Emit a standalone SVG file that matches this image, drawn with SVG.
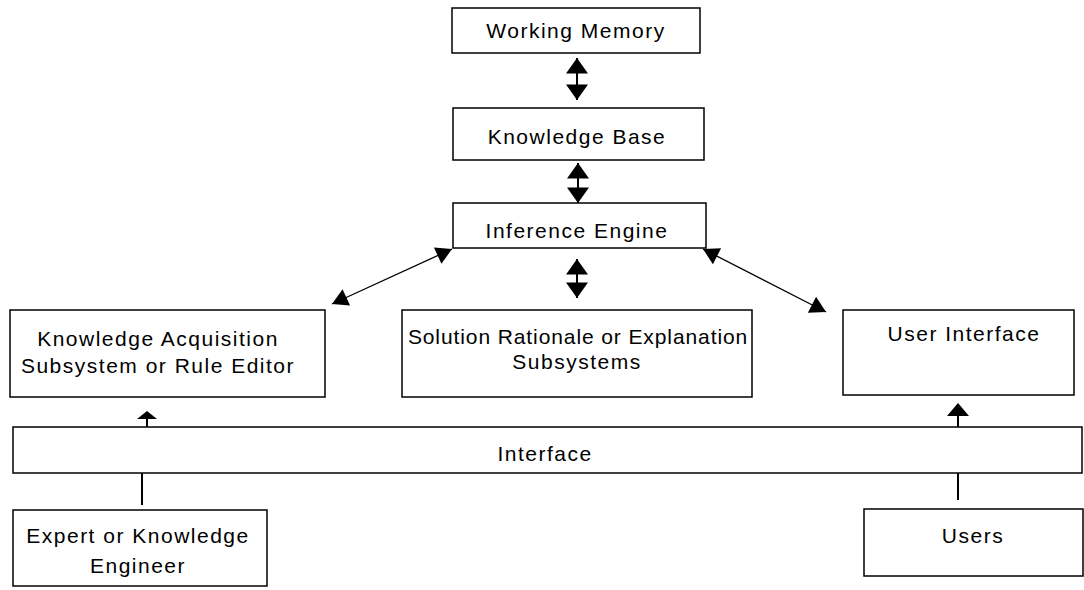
<svg xmlns="http://www.w3.org/2000/svg" width="1084" height="590" viewBox="0 0 1084 590">
<defs>
<style>
.box{fill:#fff;stroke:#000;stroke-width:1.5}
.t{font-family:"Liberation Sans",Arial,sans-serif;font-size:21px;letter-spacing:1.5px;text-anchor:middle;fill:#000}
.c{stroke:#000;stroke-width:2;fill:none}
.d{stroke:#000;stroke-width:1.3;fill:none}
.h{fill:#000}
</style>
<marker id="ah" markerUnits="userSpaceOnUse" markerWidth="22" markerHeight="22" viewBox="0 0 14 20" refX="14" refY="10" orient="auto-start-reverse">
<path d="M0,0 L14,10 L0,20 Z" fill="#000"/>
</marker>
<marker id="ad" markerUnits="userSpaceOnUse" markerWidth="18" markerHeight="18" viewBox="0 0 14 16" refX="14" refY="8" orient="auto-start-reverse">
<path d="M0,0 L14,8 L0,16 Z" fill="#000"/>
</marker>
</defs>
<rect width="1084" height="590" fill="#fff"/>
<g id="working-memory"><rect class="box" x="452" y="8" width="248" height="45"/><text class="t" x="576" y="38">Working Memory</text></g>
<g id="knowledge-base"><rect class="box" x="453" y="108" width="251" height="52"/><text class="t" x="577" y="144">Knowledge Base</text></g>
<g id="inference-engine"><rect class="box" x="453" y="203" width="253" height="45"/><text class="t" x="577" y="238">Inference Engine</text></g>
<g id="knowledge-acquisition"><rect class="box" x="10" y="310" width="315" height="87"/><text class="t" x="158" y="346">Knowledge Acquisition</text><text class="t" x="158" y="373">Subsystem or Rule Editor</text></g>
<g id="solution-rationale"><rect class="box" x="402" y="310" width="350" height="87"/><text class="t" x="578" y="344" style="letter-spacing:0.9px">Solution Rationale or Explanation</text><text class="t" x="577" y="369">Subsystems</text></g>
<g id="user-interface"><rect class="box" x="843" y="310" width="231" height="85"/><text class="t" x="964" y="341">User Interface</text></g>
<g id="interface"><rect class="box" x="13" y="427" width="1069" height="46"/><text class="t" x="545" y="461">Interface</text></g>
<g id="expert"><rect class="box" x="13" y="510" width="254" height="76"/><text class="t" x="138" y="543">Expert or Knowledge</text><text class="t" x="138" y="573">Engineer</text></g>
<g id="users"><rect class="box" x="864" y="509" width="219" height="67"/><text class="t" x="973" y="543">Users</text></g>
<g id="connectors">
<line class="c" x1="577" y1="58" x2="577" y2="100" marker-start="url(#ah)" marker-end="url(#ah)"/>
<line class="c" x1="578" y1="163" x2="578" y2="203" marker-start="url(#ah)" marker-end="url(#ah)"/>
<line class="c" x1="577" y1="259" x2="577" y2="298" marker-start="url(#ah)" marker-end="url(#ah)"/>
<line class="d" x1="452" y1="249" x2="332" y2="304" marker-start="url(#ad)" marker-end="url(#ad)"/>
<line class="d" x1="703" y1="249" x2="826" y2="312" marker-start="url(#ad)" marker-end="url(#ad)"/>
<line class="c" x1="147" y1="427" x2="147" y2="416"/>
<polygon class="h" points="147,411 137,419 157,419"/>
<line class="c" x1="958" y1="427" x2="958" y2="412"/>
<polygon class="h" points="958,403 947,416 969,416"/>
<line class="c" x1="142" y1="473" x2="142" y2="505"/>
<line class="c" x1="958" y1="473" x2="958" y2="500"/>
</g>
</svg>
